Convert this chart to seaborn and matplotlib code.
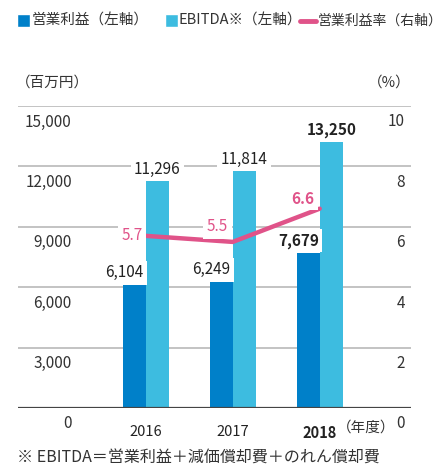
import pandas as pd
import seaborn as sns
import matplotlib.pyplot as plt
from matplotlib.patches import Rectangle
from matplotlib.lines import Line2D
import matplotlib.transforms as mtransforms

# data
years = ['2016', '2017', '2018']
op_income = [6104, 6249, 7679]
ebitda = [11296, 11814, 13250]
op_margin = [5.7, 5.5, 6.6]
left_ticks = [0, 3000, 6000, 9000, 12000, 15000]
right_ticks = [0, 2, 4, 6, 8, 10]
legend_labels = ['営業利益（左軸）', 'EBITDA※（左軸）', '営業利益率（右軸）']

dark_blue = '#0080c9'
light_blue = '#3dbce0'
pink = '#e05389'
grid_c = '#b3b3b3'
txt_c = '#333333'

sns.set_theme(style='white')
plt.rcParams['font.family'] = ['Noto Sans CJK JP', 'DejaVu Sans']

df = pd.DataFrame({
    'year': years * 2,
    'series': ['op'] * 3 + ['ebitda'] * 3,
    'value': op_income + ebitda,
})

fig = plt.figure(figsize=(4.45, 4.69), dpi=100)
W, H = 445, 469
ax = fig.add_axes([18 / W, (H - 408) / H, 393 / W, 302 / H])

sns.barplot(data=df, x='year', y='value', hue='series', palette=[dark_blue, light_blue],
            width=0.53, saturation=1, linewidth=0, legend=False, ax=ax, zorder=3)
ax.set_xlim(-1.47, 3.05)
ax.set_ylim(0, 15000)
ax.set_xlabel('')
ax.set_ylabel('')
ax.set_yticks([])
for s in ax.spines.values():
    s.set_visible(False)

for v in left_ticks[1:]:
    ax.axhline(v, color=grid_c, lw=1.1, zorder=1)
ax.axhline(0, color='#444444', lw=1.6, zorder=4)

ax.set_xticks([0, 1, 2])
ax.set_xticklabels(years, fontsize=10.5, color='#222222')
ax.get_xticklabels()[2].set_fontweight('bold')
ax.tick_params(axis='x', length=0, pad=12)

# left tick labels
blend = mtransforms.blended_transform_factory(ax.transAxes, ax.transData)
for v in left_ticks:
    ax.annotate(f'{v:,}', xy=(0.137, v), xycoords=blend, xytext=(0, -11.5),
                textcoords='offset points', ha='right', va='center',
                fontsize=11, color=txt_c)

# right axis for margin line
ax2 = ax.twinx()
ax2.set_ylim(0, 10)
ax2.set_yticks([])
for s in ax2.spines.values():
    s.set_visible(False)
sns.lineplot(x=[0, 1, 2], y=op_margin, color=pink, lw=3.2, ax=ax2)
blend2 = mtransforms.blended_transform_factory(ax2.transAxes, ax2.transData)
for v in right_ticks:
    ax2.annotate(f'{v}', xy=(0.985, v), xycoords=blend2, xytext=(0, -11.5),
                 textcoords='offset points', ha='right', va='center',
                 fontsize=11, color=txt_c)

box = dict(facecolor='white', edgecolor='none', pad=2.5)
bw = 0.265
# bar labels
for i, v in enumerate(op_income):
    ax2.annotate(f'{v:,}', xy=(i - bw / 2, v / 1500), xytext=(-7, 9), textcoords='offset points',
                 ha='center', va='center', fontsize=11, color='#222222',
                 fontweight='bold' if i == 2 else 'normal', bbox=box)
for i, v in enumerate(ebitda):
    ax2.annotate(f'{v:,}', xy=(i + bw / 2, v / 1500), xytext=(0, 8), textcoords='offset points',
                 ha='center', va='center', fontsize=11, color='#222222',
                 fontweight='bold' if i == 2 else 'normal', bbox=box)

# margin labels
offs = [(-10, 0), (-11, 11), (-12, 7)]
for i, v in enumerate(op_margin):
    ax2.annotate(f'{v}', xy=(i, v), xytext=offs[i], textcoords='offset points',
                 ha='center', va='center', fontsize=11, color=pink,
                 fontweight='bold' if i == 2 else 'normal', bbox=box)

# axis unit labels
fig.text(16 / W, 1 - 83 / H, '（百万円）', ha='left', va='center', fontsize=10.5, color=txt_c)
fig.text(411 / W, 1 - 83 / H, '（%）', ha='right', va='center', fontsize=10.5, color=txt_c)
fig.text(366 / W, 1 - 428 / H, '（年度）', ha='center', va='center', fontsize=10.5, color=txt_c)
fig.text(17 / W, 1 - 458 / H, '※ EBITDA＝営業利益＋減価償却費＋のれん償却費',
         ha='left', va='center', fontsize=11.5, color=txt_c)

# legend
ly = 1 - 21 / H
fig.patches.append(Rectangle((17 / W, 1 - 27 / H), 13 / W, 13 / H, facecolor=dark_blue,
                             transform=fig.transFigure, figure=fig))
fig.patches.append(Rectangle((165 / W, 1 - 27 / H), 13 / W, 13 / H, facecolor=light_blue,
                             transform=fig.transFigure, figure=fig))
fig.lines.append(Line2D([300 / W, 316 / W], [ly, ly], color=pink, lw=3.5,
                        transform=fig.transFigure, figure=fig))
for x0, lab, fs in zip([32, 179, 318], legend_labels, [10.5, 10.5, 10]):
    fig.text(x0 / W, ly, lab, ha='left', va='center', fontsize=fs, color=txt_c)

fig.savefig('out.png', dpi=100)
